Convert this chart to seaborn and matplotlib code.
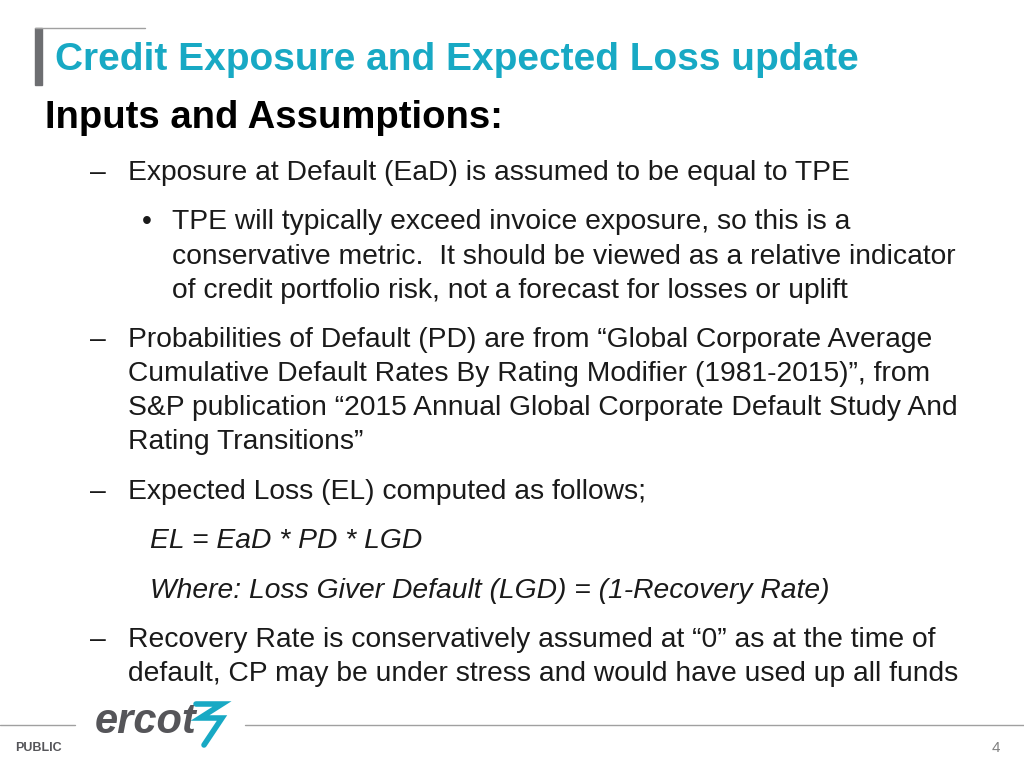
import matplotlib.pyplot as plt
import seaborn as sns

sns.set_style("white")
plt.rcParams["font.family"] = "Liberation Sans"

# slide text
title = "Credit Exposure and Expected Loss update"
subtitle = "Inputs and Assumptions:"
# (x px, y px, text, italic)
body_lines = [
    (90, 172, "–", False), (128, 172, "Exposure at Default (EaD) is assumed to be equal to TPE", False),
    (142, 221, "•", False), (172, 221, "TPE will typically exceed invoice exposure, so this is a", False),
    (172, 256, "conservative metric.  It should be viewed as a relative indicator", False),
    (172, 290, "of credit portfolio risk, not a forecast for losses or uplift", False),
    (90, 339, "–", False), (128, 339, "Probabilities of Default (PD) are from \u201cGlobal Corporate Average", False),
    (128, 373, "Cumulative Default Rates By Rating Modifier (1981-2015)\u201d, from", False),
    (128, 407, "S&P publication \u201c2015 Annual Global Corporate Default Study And", False),
    (128, 441, "Rating Transitions\u201d", False),
    (90, 491, "–", False), (128, 491, "Expected Loss (EL) computed as follows;", False),
    (150, 540, "EL = EaD * PD * LGD", True),
    (150, 590, "Where: Loss Giver Default (LGD) = (1-Recovery Rate)", True),
    (90, 639, "–", False), (128, 639, "Recovery Rate is conservatively assumed at \u201c0\u201d as at the time of", False),
    (128, 673, "default, CP may be under stress and would have used up all funds", False),
]

W, H = 1024, 768
fig = plt.figure(figsize=(10.24, 7.68), dpi=100)
ax = fig.add_axes([0, 0, 1, 1])
ax.set_xlim(0, W)
ax.set_ylim(H, 0)
ax.axis("off")

# header decoration
ax.plot([35, 145], [28, 28], color="#a0a0a0", lw=1)
ax.add_patch(plt.Rectangle((35, 28), 7, 57, color="#6d6e71"))
ax.text(55, 60, title, color="#18a9c4", fontsize=28, fontweight="bold", va="center")
ax.text(45, 118, subtitle, color="black", fontsize=27.5, fontweight="bold", va="center")

for x, y, t, it in body_lines:
    ax.text(x, y + 1, t, fontsize=20.3, color="#1a1a1a", va="center",
            style="italic" if it else "normal")

# footer
ax.plot([0, 75], [725, 725], color="#a0a0a0", lw=1)
ax.plot([245, W], [725, 725], color="#a0a0a0", lw=1)
ax.text(95, 722, "ercot", fontsize=30, fontweight="bold", style="italic",
        color="#555559", va="center")
# logo bolt drawn as strokes
ax.plot([196, 222, 200, 222, 204], [704, 704, 718, 718, 745], color="#18a9c4", lw=4,
        solid_joinstyle="miter")
ax.text(15, 748, "PUBLIC", fontsize=9, fontweight="bold", color="#555559", va="center")
ax.text(1000, 748, "4", fontsize=11, color="#808080", va="center", ha="right")

fig.savefig("out.png", dpi=100)
